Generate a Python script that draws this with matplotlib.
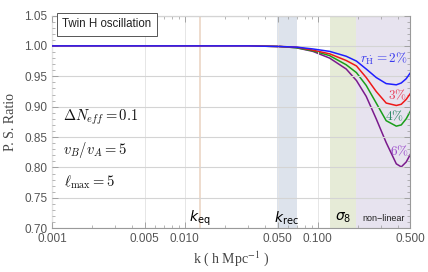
import numpy as np
import matplotlib
matplotlib.use('Agg')
import matplotlib.pyplot as plt
from matplotlib.ticker import FixedLocator, FixedFormatter, MultipleLocator

# values
k = [0.001, 0.01, 0.03, 0.052, 0.069, 0.092, 0.123, 0.164, 0.196,
     0.232, 0.276, 0.328, 0.391, 0.426, 0.464, 0.5]
ratio_2 = [1.0, 1.0, 1.0, 0.999, 0.998, 0.995, 0.991, 0.983, 0.975,
           0.962, 0.948, 0.938, 0.936, 0.939, 0.946, 0.956]
ratio_3 = [1.0, 1.0, 1.0, 0.999, 0.998, 0.993, 0.987, 0.976, 0.967,
           0.948, 0.925, 0.906, 0.902, 0.904, 0.912, 0.922]
ratio_4 = [1.0, 1.0, 1.0, 0.999, 0.997, 0.992, 0.984, 0.969, 0.956,
           0.935, 0.906, 0.877, 0.868, 0.870, 0.880, 0.893]
ratio_6 = [1.0, 1.0, 1.0, 0.999, 0.997, 0.991, 0.980, 0.962, 0.943,
           0.917, 0.880, 0.841, 0.806, 0.801, 0.809, 0.822]

xticks = [0.001, 0.005, 0.010, 0.050, 0.100, 0.500]
xticklabels = ['0.001', '0.005', '0.010', '0.050', '0.100', '0.500']
k_eq = 0.013
k_rec = (0.049, 0.07)
sigma8 = (0.123, 0.196)
nonlinear = (0.196, 0.5)

plt.rcParams['mathtext.fontset'] = 'cm'
grey = '#555555'

fig = plt.figure(figsize=(4.28, 2.72), dpi=100)
ax = fig.add_axes([0.1215, 0.1607, 0.8376, 0.7823])

ax.axvspan(*k_rec, color='#dde3ec', lw=0, zorder=0)
ax.axvspan(*sigma8, color='#e6ebd7', lw=0, zorder=0)
ax.axvspan(*nonlinear, color='#e7e3ef', lw=0, zorder=0)
ax.axvline(k_eq, color='#eedccd', lw=1.4, zorder=0.5)

ax.plot(k, ratio_2, color='#1f1fff', lw=1.1, zorder=4)
ax.plot(k, ratio_3, color='#ee1818', lw=1.1, zorder=3)
ax.plot(k, ratio_4, color='#1a9e1a', lw=1.1, zorder=2)
ax.plot(k, ratio_6, color='#7a1a8c', lw=1.1, zorder=1.5)

ax.set_xscale('log')
ax.set_xlim(0.001, 0.5)
ax.set_ylim(0.70, 1.05)
ax.xaxis.set_major_locator(FixedLocator(xticks))
ax.xaxis.set_major_formatter(FixedFormatter(xticklabels))
ax.yaxis.set_major_locator(MultipleLocator(0.05))
ax.yaxis.set_minor_locator(MultipleLocator(0.01))
ax.yaxis.set_major_formatter(plt.FormatStrFormatter('%.2f'))
ax.grid(True, which='major', axis='y', color='#d4d4d4', lw=0.8, zorder=1)
ax.grid(True, which='major', axis='x', color='#e6e6e6', lw=0.7, zorder=1)
ax.set_axisbelow(False)

ax.tick_params(which='both', direction='in', top=True, right=True,
               color='#999999', labelcolor=grey, labelsize=8.5)
ax.tick_params(which='major', length=4, width=0.6)
ax.tick_params(which='minor', length=2.2, width=0.5)
for lab in ax.get_xticklabels() + ax.get_yticklabels():
    lab.set_family('Liberation Sans')
for s in ax.spines.values():
    s.set_color('#9a9a9a')
    s.set_linewidth(0.8)

ax.set_xlabel(r'k ( h Mpc$^{-1}$ )', family='Liberation Serif', fontsize=10,
              color='#444444', math_fontfamily='stix', labelpad=3)
ax.set_ylabel('P. S. Ratio', family='Liberation Serif', fontsize=10,
              color='#444444', labelpad=5)

ax.text(0.153, 0.958, 'Twin H oscillation', transform=ax.transAxes,
        ha='center', va='center', fontsize=8.3, family='Liberation Sans',
        color='#222222', zorder=6,
        bbox=dict(boxstyle='square,pad=0.45', fc='white', ec='#555555', lw=0.7))

ax.text(0.031, 0.523, r'$\Delta N_{eff} = 0.1$', transform=ax.transAxes,
        ha='left', va='center', fontsize=10.5, color='#111111')
ax.text(0.031, 0.368, r'$v_B/v_A = 5$', transform=ax.transAxes,
        ha='left', va='center', fontsize=10.5, color='#111111')
ax.text(0.033, 0.218, r'$\ell_{\max} = 5$', transform=ax.transAxes,
        ha='left', va='center', fontsize=10.5, color='#111111')

ax.text(k_eq, 0.048, r'$k_{\rm eq}$', transform=ax.get_xaxis_transform(),
        ha='center', va='center', fontsize=10, math_fontfamily='dejavusans')
ax.text(np.sqrt(k_rec[0] * k_rec[1]), 0.048, r'$k_{\rm rec}$',
        transform=ax.get_xaxis_transform(), ha='center', va='center',
        fontsize=10, math_fontfamily='dejavusans')
ax.text(np.sqrt(sigma8[0] * sigma8[1]), 0.048, r'$\sigma_8$',
        transform=ax.get_xaxis_transform(), ha='center', va='center',
        fontsize=10, math_fontfamily='dejavusans')
ax.text(np.sqrt(nonlinear[0] * nonlinear[1]), 0.048, 'non\u2212linear',
        transform=ax.get_xaxis_transform(), ha='center', va='center',
        fontsize=6.5, family='Liberation Sans', color='#222222')

ax.text(0.475, 0.978, r'$r_{\dot{\rm H}} = 2\%$', ha='right', va='center',
        fontsize=9.5, color='#3a3aee', zorder=6)
ax.text(0.40, 0.919, r'$3\%$', ha='center', va='center', fontsize=9.5,
        color='#e8405a', zorder=6)
ax.text(0.379, 0.884, r'$4\%$', ha='center', va='center', fontsize=9.5,
        color='#2f8a66', zorder=6)
ax.text(0.414, 0.827, r'$6\%$', ha='center', va='center', fontsize=9.5,
        color='#9a4acb', zorder=6)

fig.savefig('out.png', dpi=100)
